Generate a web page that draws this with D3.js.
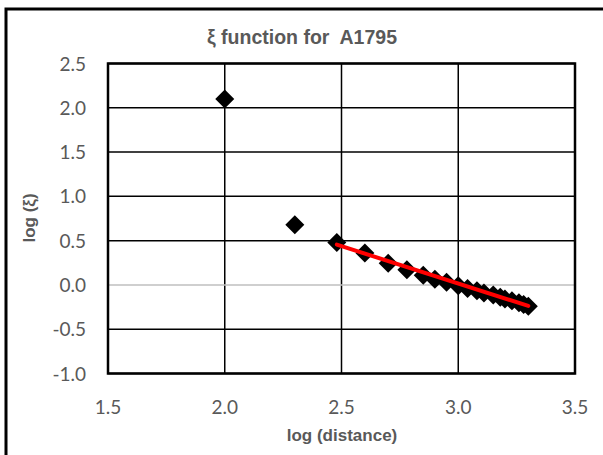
<!DOCTYPE html>
<html><head><meta charset="utf-8">
<script src="https://cdn.jsdelivr.net/npm/d3@7"></script>
<style>body{margin:0;background:#fff}svg{display:block}text{white-space:pre}</style>
</head><body>
<script>
const logDistance = [2.00,2.30,2.48,2.60,2.70,2.78,2.85,2.90,2.95,3.00,3.04,3.08,3.11,3.15,3.18,3.20,3.23,3.26,3.28,3.30];
const logXi = [2.10,0.68,0.48,0.36,0.245,0.17,0.11,0.065,0.03,-0.01,-0.04,-0.065,-0.09,-0.115,-0.14,-0.16,-0.18,-0.20,-0.22,-0.24];
const fitX = [2.48,3.30];
const fitY = [0.455,-0.237];
const xTicks = [1.5,2.0,2.5,3.0,3.5];
const yTicks = [-1.0,-0.5,0.0,0.5,1.0,1.5,2.0,2.5];
const titleText = "ξ function for  A1795";
const xLabel = "log (distance)";
const yLabel = "log (ξ)";

const W=603,H=455;
const svg=d3.select("body").append("svg").attr("width",W).attr("height",H);
svg.append("rect").attr("x",6).attr("y",9).attr("width",W+10).attr("height",H+10)
  .attr("fill","#fff").attr("stroke","#000").attr("stroke-width",3);

const L=108,R=575,T=63.5,B=373.5;
const x=d3.scaleLinear().domain([1.5,3.5]).range([L,R]);
const y=d3.scaleLinear().domain([-1,2.5]).range([B,T]);

const g=svg.append("g");
g.selectAll(".vg").data(xTicks.slice(1,-1)).join("line")
  .attr("x1",d=>x(d)).attr("x2",d=>x(d)).attr("y1",T).attr("y2",B)
  .attr("stroke","#000").attr("stroke-width",1.5);
g.selectAll(".hg").data(yTicks.filter(d=>d!==0)).join("line")
  .attr("x1",L).attr("x2",R).attr("y1",d=>y(d)).attr("y2",d=>y(d))
  .attr("stroke","#000").attr("stroke-width",1.5);
g.append("line").attr("x1",L).attr("x2",R).attr("y1",y(0)).attr("y2",y(0))
  .attr("stroke","#bfbfbf").attr("stroke-width",1.5);
g.append("rect").attr("x",L).attr("y",T).attr("width",R-L).attr("height",B-T)
  .attr("fill","none").attr("stroke","#000").attr("stroke-width",2.5);

const tickFont="Lato, 'Open Sans', sans-serif";
svg.selectAll(".xt").data(xTicks).join("text")
  .attr("x",d=>x(d)).attr("y",414).attr("text-anchor","middle")
  .attr("font-family",tickFont).attr("font-size",19).attr("fill","#595959")
  .text(d=>d3.format(".1f")(d));
svg.selectAll(".yt").data(yTicks).join("text")
  .attr("x",86).attr("y",d=>y(d)+7).attr("text-anchor","end")
  .attr("font-family",tickFont).attr("font-size",19).attr("fill","#595959")
  .text(d=>d3.format(".1f")(d).replace("−","-"));

const pts=logDistance.map((d,i)=>[d,logXi[i]]);
const s=9.5;
svg.selectAll(".pt").data(pts).join("path")
  .attr("d",d=>`M${x(d[0])},${y(d[1])-s}L${x(d[0])+s},${y(d[1])}L${x(d[0])},${y(d[1])+s}L${x(d[0])-s},${y(d[1])}Z`)
  .attr("fill","#000");
svg.append("path").datum(fitX.map((d,i)=>[d,fitY[i]]))
  .attr("d",d3.line().x(d=>x(d[0])).y(d=>y(d[1])))
  .attr("stroke","#ff0000").attr("stroke-width",4).attr("fill","none").attr("stroke-linecap","round");

const bold="'Liberation Sans', Arial, sans-serif";
svg.append("text").attr("x",302).attr("y",44).attr("text-anchor","middle")
  .attr("font-family",bold).attr("font-weight","bold")
  .attr("font-size",19.5).attr("fill","#595959").text(titleText);
svg.append("text").attr("x",342).attr("y",441).attr("text-anchor","middle")
  .attr("font-family",bold).attr("font-weight","bold")
  .attr("font-size",17).attr("fill","#595959").text(xLabel);
svg.append("text").attr("transform","translate(35,218) rotate(-90)").attr("text-anchor","middle")
  .attr("font-family",bold).attr("font-weight","bold")
  .attr("font-size",17).attr("fill","#595959").text(yLabel);
</script>
</body></html>
